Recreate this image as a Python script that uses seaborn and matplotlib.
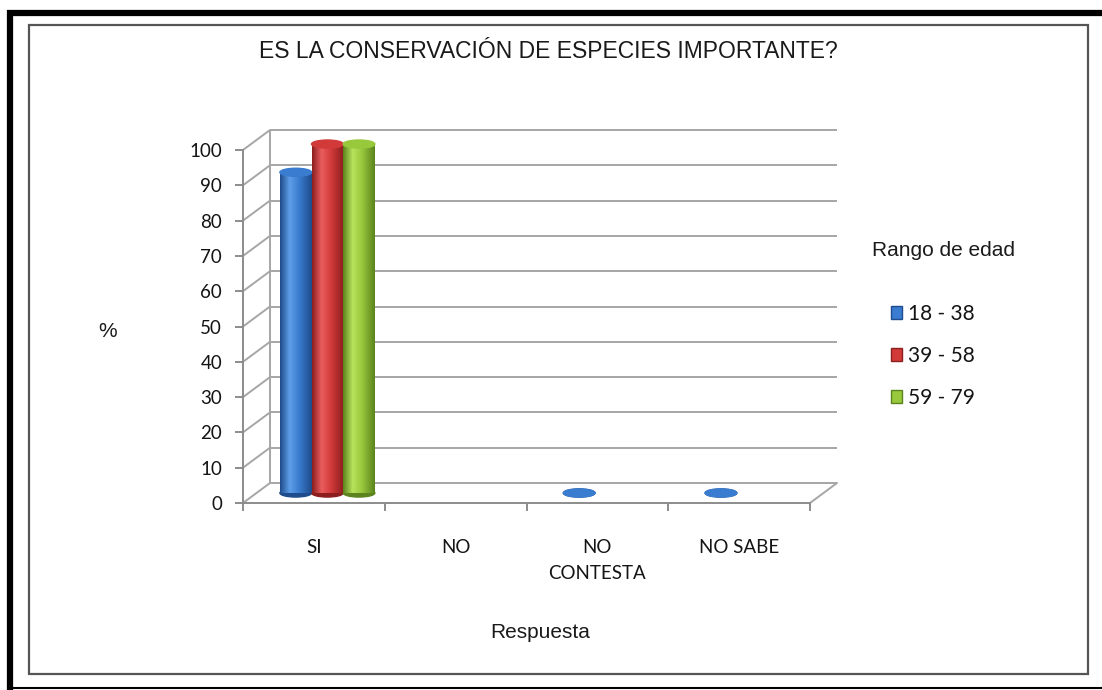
import numpy as np
import pandas as pd
import matplotlib
matplotlib.use("Agg")
import matplotlib.pyplot as plt
import seaborn as sns
from matplotlib.transforms import offset_copy
from matplotlib.patches import Ellipse, Rectangle, ConnectionPatch, Patch
from matplotlib.lines import Line2D
from matplotlib.colors import LinearSegmentedColormap, to_rgb

# --- datos ---
respuestas = ["SI", "NO", "NO\nCONTESTA", "NO SABE"]
rangos = ["18 - 38", "39 - 58", "59 - 79"]
v_18_38 = [92, 0, 1, 1]
v_39_58 = [100, 0, 0, 0]
v_59_79 = [100, 0, 0, 0]
y_ticks = list(range(0, 101, 10))

titulo = "ES LA CONSERVACIÓN DE ESPECIES IMPORTANTE?"

# --- colores ---
base_colors = ["#3a7ccf", "#d23a3a", "#98c83c"]
dark_colors = ["#1e4c8c", "#8c1e1e", "#5c841e"]
light_colors = ["#5f9ee8", "#ea5e5e", "#b6e25c"]
grid_c = "#a6a6a6"

df = pd.DataFrame({
    "Respuesta": respuestas * 3,
    "Rango": np.repeat(rangos, len(respuestas)),
    "Valor": v_18_38 + v_39_58 + v_59_79,
})

sns.set_theme(style="white")
plt.rcParams["font.family"] = ["Liberation Sans", "DejaVu Sans"]

W, H = 1102, 690
fig = plt.figure(figsize=(W / 100, H / 100), dpi=100)
fx = lambda x: x / W
fy = lambda y: 1 - y / H

ax = fig.add_axes([fx(243), fy(503), (810 - 243) / W, (503 - 150) / H])
ax.set_facecolor("none")
sns.barplot(data=df, x="Respuesta", y="Valor", hue="Rango", order=respuestas,
            hue_order=rangos, palette=base_colors, width=0.67, saturation=1,
            errorbar=None, legend=False, ax=ax)
bars = list(ax.patches)

# desplazamientos "3D"
back = offset_copy(ax.transData, fig=fig, x=27, y=20, units="dots")
mid = offset_copy(ax.transData, fig=fig, x=13.5, y=10, units="dots")

# pared del fondo + diagonales
ax.hlines(y_ticks, -0.5, 3.5, colors=grid_c, lw=1.4, transform=back, clip_on=False, zorder=0)
ax.vlines(-0.5, 0, 100, colors=grid_c, lw=1.4, transform=back, clip_on=False, zorder=0)
for yv in y_ticks:
    cp = ConnectionPatch((-0.5, yv), (-0.5, yv), coordsA=ax.transData, coordsB=back,
                         color=grid_c, lw=1.4, zorder=0)
    cp.set_annotation_clip(False)
    ax.add_artist(cp)
cp = ConnectionPatch((3.5, 0), (3.5, 0), coordsA=ax.transData, coordsB=back,
                     color=grid_c, lw=1.4, zorder=0)
cp.set_annotation_clip(False)
ax.add_artist(cp)

# cilindros
cap_h = 2.3
for p in bars:
    h = p.get_height()
    p.set_transform(mid)
    p.set_clip_on(False)
    p.set_visible(False)
    if h <= 0:
        continue
    fc = np.array(p.get_facecolor()[:3])
    i = int(np.argmin([np.sum((fc - np.array(to_rgb(c))) ** 2) for c in base_colors]))
    x0, w = p.get_x(), p.get_width()
    top = max(h - cap_h / 2, 0)
    cmap = LinearSegmentedColormap.from_list(
        "cyl", [(0, dark_colors[i]), (0.3, light_colors[i]), (0.6, base_colors[i]), (1, dark_colors[i])])
    grad = np.linspace(0, 1, 64)[None, :]
    ax.imshow(grad, cmap=cmap, extent=[x0, x0 + w, 0, top], aspect="auto",
              transform=mid, clip_on=False, zorder=3, interpolation="bilinear")
    ax.add_patch(Ellipse((x0 + w / 2, 0), w, cap_h, transform=mid, color=dark_colors[i],
                         zorder=2, clip_on=False))
    ax.add_patch(Ellipse((x0 + w / 2, top), w, cap_h, transform=mid, color=base_colors[i],
                         zorder=4, clip_on=False))

ax.set_xlim(-0.5, 3.5)
ax.set_ylim(0, 100)
ax.set_xlabel("")
ax.set_ylabel("")

for s in ["top", "right"]:
    ax.spines[s].set_visible(False)
for s in ["left", "bottom"]:
    ax.spines[s].set_color("#8c8c8c")
    ax.spines[s].set_linewidth(1.4)

tick_font = dict(family=["Lato", "DejaVu Sans"], size=13.5, color="#141414")
ax.set_yticks(y_ticks)
ax.set_yticklabels([str(v) for v in y_ticks], **tick_font)
ax.tick_params(axis="y", left=True, length=6, width=1.4, color="#8c8c8c", pad=9)
ax.set_xticks([-0.5, 0.5, 1.5, 2.5, 3.5])
ax.set_xticklabels([])
ax.set_xticks(range(len(respuestas)), minor=True)
ax.set_xticklabels(respuestas, minor=True, **tick_font)
ax.tick_params(axis="x", which="major", bottom=True, length=6, width=1.4, color="#8c8c8c")
ax.tick_params(axis="x", which="minor", bottom=True, length=0, pad=26)
for lb in ax.get_xticklabels(minor=True):
    lb.set_linespacing(1.6)
    lb.set_verticalalignment("top")

# textos
fig.text(fx(548), fy(52), titulo, ha="center", va="center", fontsize=16.5, color="#1a1a1a")
fig.text(fx(108), fy(331), "%", ha="center", va="center", fontsize=15, color="#1a1a1a")
fig.text(fx(540), fy(632), "Respuesta", ha="center", va="center", fontsize=15, color="#1a1a1a")
fig.text(fx(872), fy(250), "Rango de edad", ha="left", va="center", fontsize=15, color="#1a1a1a")

handles = [Patch(facecolor=base_colors[i], edgecolor=dark_colors[i]) for i in range(3)]
fig.legend(handles, rangos, loc="center left", bbox_to_anchor=(fx(872), fy(356)),
           frameon=False, prop=dict(family=["Lato", "DejaVu Sans"], size=15),
           labelcolor="#141414", handlelength=0.55, handleheight=0.55,
           handletextpad=0.3, labelspacing=1.05)

# marcos
fig.add_artist(Rectangle((fx(28.5), fy(674)), (1088 - 28.5) / W, (674 - 25) / H,
                         transform=fig.transFigure, fill=False, ec="#555555", lw=1.6))
fig.add_artist(Line2D([fx(7), 1], [fy(13), fy(13)], transform=fig.transFigure, color="black",
                      lw=4.5, solid_capstyle="butt"))
fig.add_artist(Line2D([fx(10), fx(10)], [fy(10), 0], transform=fig.transFigure, color="black",
                      lw=4.5, solid_capstyle="butt"))
fig.add_artist(Line2D([fx(7), 1], [fy(688), fy(688)], transform=fig.transFigure, color="black",
                      lw=1.5, solid_capstyle="butt"))

fig.savefig("out.png", dpi=100, facecolor="white")
